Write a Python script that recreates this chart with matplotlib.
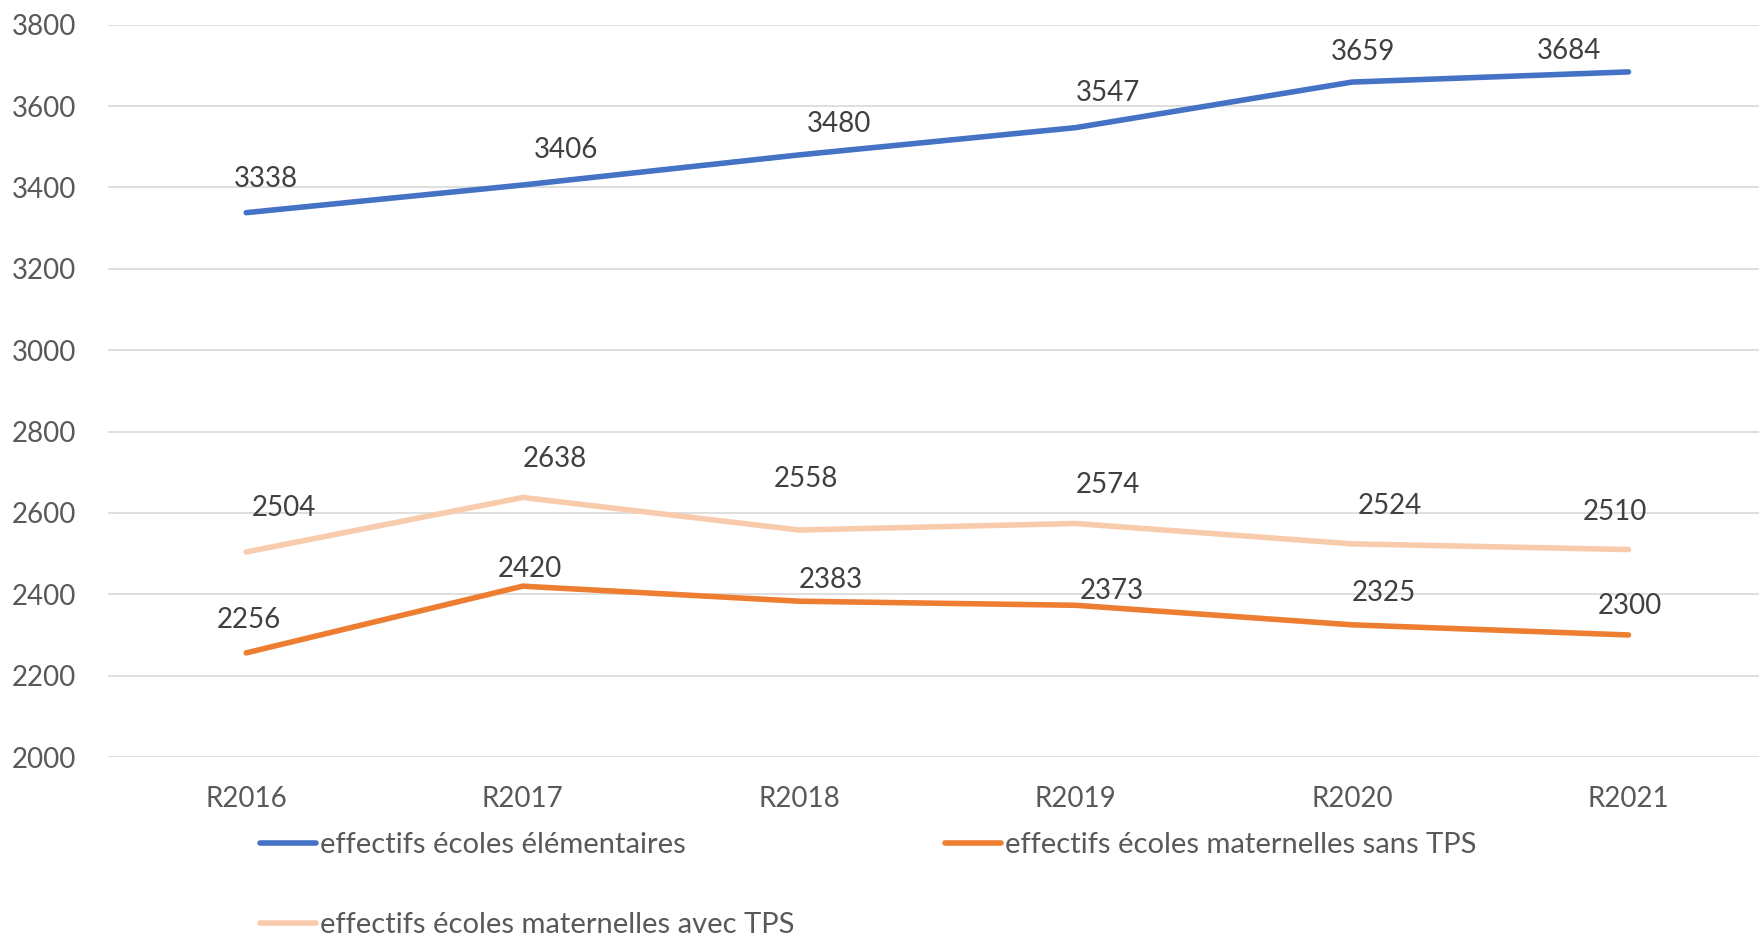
import matplotlib.pyplot as plt

# data
years = ['R2016', 'R2017', 'R2018', 'R2019', 'R2020', 'R2021']
elementaires = [3338, 3406, 3480, 3547, 3659, 3684]
mat_sans_tps = [2256, 2420, 2383, 2373, 2325, 2300]
mat_avec_tps = [2504, 2638, 2558, 2574, 2524, 2510]

# label offsets (points), placed by hand like in the source sheet
off_elem = [(14, 24), (31, 25), (29, 22), (23, 25), (8, 22), (-43, 15)]
off_sans = [(2, 24), (5, 12), (23, 15), (26, 10), (23, 23), (1, 21)]
off_avec = [(27, 32), (23, 28), (5, 37), (23, 28), (27, 27), (-10, 27)]

plt.rcParams['font.family'] = ['Lato', 'DejaVu Sans']

fig = plt.figure(figsize=(17.59, 9.36), dpi=100)
ax = fig.add_axes([0.0614, 0.1912, 0.943, 0.7824])

x = list(range(len(years)))
series = [
    (elementaires, '#4472C4', 'effectifs écoles élémentaires', off_elem),
    (mat_avec_tps, '#F8CBAD', 'effectifs écoles maternelles avec TPS', off_avec),
    (mat_sans_tps, '#ED7D31', 'effectifs écoles maternelles sans TPS', off_sans),
]
for vals, col, lab, offs in series:
    ax.plot(x, vals, color=col, lw=4, label=lab, solid_capstyle='round')
    for xi, v, o in zip(x, vals, offs):
        ax.annotate(str(v), (xi, v), xytext=o, textcoords='offset points',
                    ha='center', va='center', fontsize=20, color='#404040')

ax.set_xlim(-0.5, len(years) - 0.5)
ax.set_ylim(2000, 3800)
ax.set_yticks(range(2000, 3801, 200))
ax.set_xticks(x)
ax.set_xticklabels(years)
ax.grid(axis='y', color='#D9D9D9', lw=1.2)
ax.set_axisbelow(True)
for s in ax.spines.values():
    s.set_visible(False)
ax.tick_params(axis='both', length=0, labelsize=20, colors='#595959')
ax.tick_params(axis='x', pad=21)
ax.tick_params(axis='y', pad=23)

fig.legend(loc='upper left', bbox_to_anchor=(0.148, 0.111), ncol=2, frameon=False,
           fontsize=21, labelcolor='#595959', handlelength=1.9, handletextpad=0.16,
           columnspacing=5.15, labelspacing=1.85, borderaxespad=0, borderpad=0)

fig.savefig('out.png', dpi=100)
